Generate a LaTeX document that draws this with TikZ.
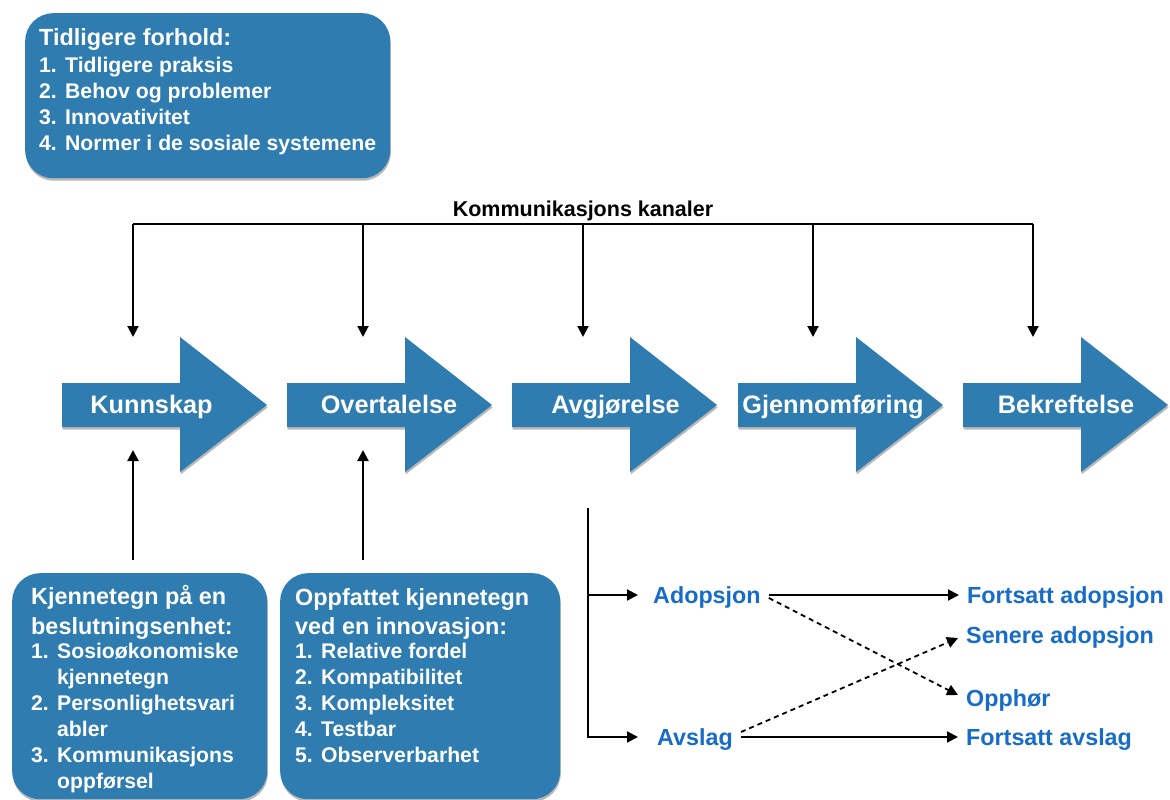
\documentclass[tikz,border=0pt]{standalone}
\usepackage{fontspec}
\setmainfont{Liberation Sans}
\usetikzlibrary{arrows.meta,shadows}

\definecolor{stageblue}{RGB}{46,124,176}
\definecolor{outcomeblue}{RGB}{22,108,200}

% fixed-width slot for list numbers
\newcommand\listno[1]{\makebox[26pt][l]{#1}}
\newcommand\listgap{\hspace*{26pt}}
% invisible strut fixing the height of the first line
\newcommand\firstline{\rule{0pt}{20pt}}
\newcommand\headfont{\fontsize{23.4}{26}\selectfont}

% one stage of the process: arrow shape (left edge #2) with its label
\newcommand\stagearrow[4]{%
  \fill[stageblue,softshadow]
    (#2,383) -- (#2+118,383) -- (#2+118,337) -- (#2+205,405)
    -- (#2+118,472) -- (#2+118,427) -- (#2,427) -- cycle;
  \node[stagetext,anchor=base] (#1) at (#3,413) {#4};}

\begin{document}
\begin{tikzpicture}[x=1pt,y=-1pt,
  softshadow/.style={drop shadow={shadow xshift=0.6pt,shadow yshift=-2.5pt,
      opacity=0.28,fill=black}},
  infobox/.style={fill=stageblue,rounded corners=28pt,softshadow,
      anchor=north west,inner sep=0pt},
  boxtext/.style={text=white,align=left,inner sep=0pt,anchor=north west,
      font=\bfseries\fontsize{21.2}{26}\selectfont},
  stagetext/.style={text=white,inner sep=0pt,
      font=\bfseries\fontsize{25.3}{30}\selectfont},
  plain/.style={line width=2pt},
  flow/.style={plain,-{Triangle[length=11pt,width=11pt]}},
  chance/.style={line width=1.8pt,dash pattern=on 5pt off 4pt,
      -{Triangle[length=11pt,width=11pt]}},
  outcome/.style={text=outcomeblue,inner xsep=8pt,inner ysep=0pt,
      text height=16.5pt,text depth=0pt,anchor=west,
      font=\bfseries\fontsize{23.3}{28}\selectfont},
]
\useasboundingbox (0,0) rectangle (1170,800);

% ---------- prior conditions ----------
\node[infobox,minimum width=365pt,minimum height=165pt] (prior) at (25,13) {};
\node[boxtext] (prior-text) at (39,25.7) {%
  \firstline{\headfont Tidligere forhold:}\\[1pt]
  \listno{1.}Tidligere praksis\\
  \listno{2.}Behov og problemer\\
  \listno{3.}Innovativitet\\
  \listno{4.}Normer i de sosiale systemene};

% ---------- stages ----------
\stagearrow{know}{62}{151.5}{Kunnskap}
\stagearrow{persuade}{287}{389}{Overtalelse}
\stagearrow{decide}{512}{615.5}{Avgjørelse}
\stagearrow{implement}{738}{833}{Gjennomføring}
\stagearrow{confirm}{963}{1066}{Bekreftelse}

% ---------- communication channels ----------
\node[font=\bfseries\fontsize{21.5}{26}\selectfont,inner sep=0pt,anchor=base]
  (channels) at (583,216) {Kommunikasjons kanaler};
\coordinate (in-know) at (133,337);
\coordinate (in-persuade) at (363,337);
\coordinate (in-decide) at (583,337);
\coordinate (in-implement) at (813,337);
\coordinate (in-confirm) at (1033,337);
\coordinate (bus-left) at (133,224);
\coordinate (bus-right) at (1033,224);
\draw[plain] (bus-left) -- (bus-right);
\foreach \s in {know,persuade,decide,implement,confirm}
  \draw[flow] (in-\s |- bus-left) -- (in-\s);

% ---------- characteristics boxes ----------
\node[infobox,minimum width=255pt,minimum height=226pt] (unit) at (12,573) {};
\node[boxtext] (unit-text) at (31,584.7) {%
  \firstline{\headfont Kjennetegn på en}\\[3.5pt]
  {\headfont beslutningsenhet:}\\[-2pt]
  \listno{1.}Sosioøkonomiske\\
  \listgap kjennetegn\\
  \listno{2.}Personlighetsvari\\
  \listgap abler\\
  \listno{3.}Kommunikasjons\\
  \listgap oppførsel};

\node[infobox,minimum width=280pt,minimum height=226pt] (innov) at (280,573) {};
\node[boxtext] (innov-text) at (295,585) {%
  \firstline{\headfont Oppfattet kjennetegn}\\[3.5pt]
  {\headfont ved en innovasjon:}\\[-2pt]
  \listno{1.}Relative fordel\\
  \listno{2.}Kompatibilitet\\
  \listno{3.}Kompleksitet\\
  \listno{4.}Testbar\\
  \listno{5.}Observerbarhet};

\coordinate (from-unit) at (133,560);
\coordinate (to-know) at (133,450);
\coordinate (from-innov) at (363,560);
\coordinate (to-persuade) at (363,450);
\draw[flow] (from-unit) -- (to-know);
\draw[flow] (from-innov) -- (to-persuade);

% ---------- decision outcomes ----------
\coordinate (split) at (588,508);
\node[outcome] (adopt) at (645,595) {Adopsjon};
\node[outcome] (reject) at (649,737) {Avslag};
\node[outcome] (keep-adopt) at (959,595) {Fortsatt adopsjon};
\node[outcome] (later) at (958,635) {Senere adopsjon};
\node[outcome] (stop) at (958,698) {Opphør};
\node[outcome] (keep-reject) at (958,737) {Fortsatt avslag};

\draw[flow,shorten >=7pt] (split |- adopt.west) -- (adopt.west);
\draw[flow,shorten >=11pt] (split) |- (reject.west);
\draw[flow] (adopt.east) -- (keep-adopt.west);
\draw[flow] (reject.east) -- (keep-reject.west);
\draw[chance] ([yshift=-3pt]adopt.east) -- ([yshift=3pt]stop.west);
\draw[chance] ([yshift=5pt]reject.east) -- ([yshift=-3pt]later.west);
\end{tikzpicture}
\end{document}
